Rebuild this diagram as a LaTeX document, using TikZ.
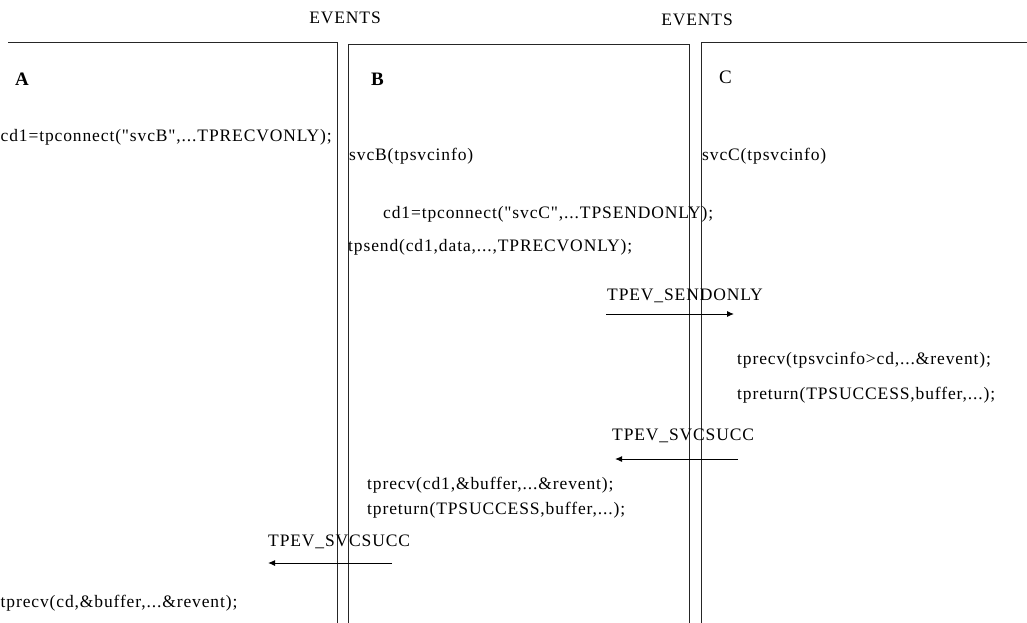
\documentclass[tikz,border=0pt]{standalone}
\usepackage{fontspec}
\setmainfont{Liberation Serif}[LetterSpace=5, Ligatures=TeXOff]
\usepackage{tikz}
\usetikzlibrary{arrows.meta}

\begin{document}
\begin{tikzpicture}[
  x = 1pt, y = -1pt,
  every node/.style = {font=\fontsize{17.5}{21}\selectfont, inner sep=0pt},
  code/.style   = {anchor=base west},
  lane/.style   = {draw=black!85, line width=1pt},
  evt/.style    = {anchor=base west},
  arrow/.style  = {-{Latex[length=7pt,width=6pt]}, line width=1pt}
]
\useasboundingbox (0,0) rectangle (1027,623);
\clip (0,0) rectangle (1027,623);

% --- swim lanes A, B, C ---
\draw[lane] (8,43) -- (337,43) -- (337,630);
\draw[lane] (348,630) -- (348,45) -- (689,45) -- (689,630);
\draw[lane] (701,630) -- (701,43) -- (1030,43);

\node (ev1) at (345,24) [anchor=base] {EVENTS};
\node (ev2) at (697,26) [anchor=base] {EVENTS};

\node[code] (laneA) at (15,86)  {\fontsize{19}{21}\selectfont\bfseries A};
\node[code] (laneB) at (371,86) {\fontsize{19}{21}\selectfont\bfseries B};
\node[code] (laneC) at (719,84) {\fontsize{19}{21}\selectfont C};

% --- A ---
\node[code] (connB) at (0.5,142) {cd1=tpconnect("svcB",...TPRECVONLY);};
\node[code] (recvA) at (0.5,607) {tprecv(cd,\&buffer,...\&revent);};

% --- B ---
\node[code] (svcB)  at (349,160) {svcB(tpsvcinfo)};
\node[code] (connC) at (383,218) {cd1=tpconnect("svcC",...TPSENDONLY);};
\node[code] (send)  at (348,251) {tpsend(cd1,data,...,TPRECVONLY);};
\node[code] (recvB) at (367,489) {tprecv(cd1,\&buffer,...\&revent);};
\node[code] (retB)  at (367,514) {tpreturn(TPSUCCESS,buffer,...);};

% --- C ---
\node[code] (svcC)  at (702,160) {svcC(tpsvcinfo)};
\node[code] (recvC) at (737,364) {tprecv(tpsvcinfo>cd,...\&revent);};
\node[code] (retC)  at (737,399) {tpreturn(TPSUCCESS,buffer,...);};

% --- events ---
\node[evt] (sendonly) at (607,300) {TPEV\_SENDONLY};
\coordinate (s1) at (606,314);
\coordinate (e1) at (734,314);
\draw[arrow] (s1) -- (e1);

\node[evt] (succC) at (612,440) {TPEV\_SVCSUCC};
\coordinate (s2) at (738,459);
\coordinate (e2) at (615,459);
\draw[arrow] (s2) -- (e2);

\node[evt] (succB) at (268,546) {TPEV\_SVCSUCC};
\coordinate (s3) at (392,563);
\coordinate (e3) at (268,563);
\draw[arrow] (s3) -- (e3);

\end{tikzpicture}
\end{document}
